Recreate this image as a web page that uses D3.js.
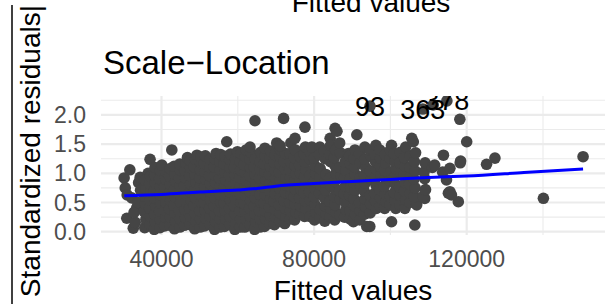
<!DOCTYPE html>
<html lang="en">
<head>
  <meta charset="utf-8">
  <title>Scale-Location</title>
  <script src="https://d3js.org/d3.v7.min.js"></script>
  <style>
    body { margin: 0; background: #fff; }
    svg { display: block; font-family: "Liberation Sans", Arial, sans-serif; }
  </style>
</head>
<body>

<svg width="605" height="304"></svg>

<script>
  // fitted value, sqrt(|standardized residual|)
  const points = [
    [30200,0.92],[30500,0.75],[31000,0.63],[30900,0.23],[31700,1.06],[32200,0.58],[32600,0.06],[33100,0.16],
    [33500,0.41],[32800,0.33],[34000,0.84],[34500,0.71],[33800,0.50],[34400,0.93],[36500,1.00],[37000,1.24],
    [35600,0.07],[35900,0.21],[35500,0.34],[35800,0.48],[35600,0.61],[35900,0.74],[35700,0.88],
    [37000,0.12],[37100,0.26],[36900,0.40],[37000,0.54],[37200,0.68],[36900,0.82],[37100,0.95],
    [38100,0.04],[38400,0.17],[38200,0.30],[38500,0.44],[38300,0.57],[38100,0.70],[38400,0.84],[38200,0.97],[38300,1.10],
    [39600,0.07],[39700,0.21],[39500,0.35],[39800,0.49],[39600,0.63],[39700,0.77],[39500,0.91],[39700,1.05],
    [40800,0.10],[41100,0.24],[40900,0.37],[41200,0.50],[41000,0.64],[40800,0.77],[41100,0.90],[40900,1.04],[40100,1.14],
    [42200,0.11],[42300,0.25],[42100,0.39],[42400,0.53],[42200,0.67],[42300,0.81],[42100,0.95],[42300,1.08],
    [42700,1.40],
    [43400,0.05],[43700,0.18],[43500,0.32],[43300,0.45],[43600,0.59],[43400,0.72],[43700,0.86],[43500,0.99],[43300,1.12],
    [44800,0.08],[44900,0.22],[44700,0.36],[45000,0.50],[44800,0.64],[44900,0.78],[44700,0.92],[44900,1.06],[44800,1.16],
    [46000,0.11],[46300,0.24],[46100,0.38],[46400,0.51],[46200,0.65],[46000,0.78],[46300,0.92],[46100,1.05],[46400,1.18],[46800,1.27],
    [47500,0.12],[47600,0.26],[47400,0.40],[47700,0.54],[47500,0.68],[47600,0.82],[47400,0.96],[47600,1.10],[47500,1.22],
    [48700,0.05],[49000,0.18],[48800,0.31],[48600,0.45],[48900,0.58],[48700,0.71],[49000,0.85],[48800,0.98],[48600,1.11],[48900,1.24],[49300,1.31],
    [50100,0.08],[50200,0.22],[50000,0.36],[50300,0.50],[50100,0.64],[50200,0.78],[50000,0.92],[50200,1.06],[50100,1.20],[50300,1.28],
    [51300,0.10],[51600,0.23],[51400,0.37],[51200,0.50],[51500,0.63],[51300,0.77],[51600,0.90],[51400,1.03],[51200,1.17],[51500,1.30],
    [52700,0.12],[52800,0.26],[52600,0.40],[52900,0.54],[52700,0.68],[52800,0.82],[52600,0.96],[52800,1.10],[52700,1.24],
    [53900,0.04],[54200,0.17],[54000,0.31],[53800,0.44],[54100,0.57],[53900,0.71],[54200,0.84],[54000,0.97],[53800,1.11],[54100,1.24],[54300,1.34],
    [55300,0.08],[55400,0.22],[55200,0.36],[55500,0.50],[55300,0.64],[55400,0.78],[55200,0.92],[55400,1.06],[55300,1.20],[55500,1.32],
    [56500,0.09],[56800,0.22],[56600,0.36],[56400,0.49],[56700,0.62],[56500,0.76],[56800,0.89],[56600,1.02],[56400,1.16],[56700,1.29],[57100,1.54],
    [57900,0.12],[58000,0.26],[57800,0.40],[58100,0.54],[57900,0.68],[58000,0.82],[57800,0.96],[58000,1.10],[57900,1.24],[58100,1.33],
    [59200,0.04],[59500,0.17],[59300,0.30],[59100,0.44],[59400,0.57],[59200,0.70],[59500,0.84],[59300,0.97],[59100,1.10],[59400,1.24],[59900,1.37],
    [60600,0.08],[60700,0.22],[60500,0.36],[60800,0.50],[60600,0.64],[60700,0.78],[60500,0.92],[60700,1.06],[60600,1.20],[60800,1.34],
    [61800,0.08],[62100,0.21],[61900,0.35],[61700,0.48],[62000,0.62],[61800,0.75],[62100,0.88],[61900,1.02],[61700,1.15],[62000,1.29],[62200,1.40],
    [63200,0.12],[63300,0.26],[63100,0.40],[63400,0.54],[63200,0.68],[63300,0.82],[63100,0.96],[63300,1.10],[63200,1.24],[63400,1.36],
    [64400,0.04],[64700,0.17],[64500,0.31],[64300,0.44],[64600,0.58],[64400,0.71],[64700,0.84],[64500,0.98],[64300,1.11],[64600,1.25],[63200,1.45],[64500,1.90],
    [65800,0.08],[65900,0.22],[65700,0.36],[66000,0.50],[65800,0.64],[65900,0.78],[65700,0.92],[65900,1.06],[65800,1.20],[66000,1.36],
    [67000,0.09],[67300,0.22],[67100,0.36],[66900,0.49],[67200,0.63],[67000,0.76],[67300,0.89],[67100,1.03],[66900,1.16],[67200,1.30],[67100,1.43],
    [68400,0.14],[68500,0.28],[68300,0.42],[68600,0.56],[68400,0.70],[68500,0.84],[68300,0.98],[68500,1.12],[68400,1.26],[68600,1.38],
    [69600,0.12],[69900,0.25],[69700,0.38],[69500,0.52],[69800,0.65],[69600,0.79],[69900,0.92],[69700,1.05],[69500,1.19],[69800,1.32],[70500,1.48],[70200,1.52],
    [71000,0.18],[71100,0.32],[70900,0.46],[71200,0.60],[71000,0.74],[71100,0.88],[70900,1.02],[71100,1.16],[71000,1.30],[71200,1.40],
    [72300,0.14],[72600,0.27],[72400,0.40],[72200,0.53],[72500,0.67],[72300,0.80],[72600,0.93],[72400,1.07],[72200,1.20],[72500,1.34],[71100,1.47],[72000,1.94],
    [73700,0.22],[73800,0.36],[73600,0.50],[73900,0.64],[73700,0.78],[73800,0.92],[73600,1.06],[73800,1.20],[73700,1.34],[73900,1.52],
    [74900,0.20],[75200,0.33],[75000,0.47],[74800,0.60],[75100,0.73],[74900,0.87],[75200,1.00],[75000,1.13],[74800,1.27],[75100,1.40],[75000,1.60],
    [76300,0.30],[76400,0.44],[76200,0.58],[76500,0.72],[76300,0.86],[76400,1.00],[76200,1.14],[76400,1.28],
    [77500,0.26],[77800,0.39],[77600,0.53],[77400,0.66],[77700,0.79],[77500,0.93],[77800,1.06],[77600,1.19],[77400,1.33],[77700,1.45],[77600,1.79],
    [78900,0.26],[79000,0.54],[78800,0.68],[79100,0.82],[78900,0.96],[79000,1.24],[78800,1.38],
    [80100,0.20],[80400,0.33],[80200,0.47],[80000,0.60],[80300,0.73],[80100,0.86],[80400,1.00],[80200,1.13],[80000,1.26],[79400,1.45],[81500,1.45],
    [81500,0.24],[81600,0.38],[81400,0.66],[81700,0.80],[81500,0.94],[81600,1.08],[81400,1.32],
    [82800,0.18],[83100,0.31],[82900,0.44],[82700,0.58],[83000,0.71],[82800,0.85],[83100,0.98],[82900,1.25],[82700,1.38],[84200,1.60],
    [84200,0.26],[84300,0.40],[84100,0.52],[84400,0.78],[84200,0.92],[84300,1.20],[84100,1.33],[84300,1.48],
    [85400,0.20],[85700,0.33],[85500,0.46],[85300,0.60],[85600,0.73],[85400,0.86],[85700,1.00],[85500,1.13],[85300,1.27],[85600,1.40],[85500,1.77],[86000,1.72],
    [86800,0.28],[86900,0.56],[86700,0.70],[87000,0.96],[86800,1.10],[86900,1.35],[86700,1.52],
    [88000,0.25],[88300,0.38],[88100,0.52],[87900,0.65],[88200,0.78],[88000,0.92],[88300,1.05],[88100,1.19],[89000,1.34],
    [89400,0.22],[89500,0.36],[89300,0.62],[89600,0.76],[89400,0.90],[89500,1.16],[89300,1.30],
    [90300,0.17],[90800,0.30],[90600,0.44],[90400,0.57],[90700,0.71],[90500,0.84],[90800,0.98],[90600,1.11],[90400,1.25],[90700,1.40],[91200,1.66],
    [92000,0.20],[92100,0.36],[91900,0.50],[92200,0.78],[92000,0.92],[92100,1.18],[91900,1.34],
    [93800,0.09],[94600,0.09],[93200,0.30],[93500,0.43],[93300,0.56],[93100,0.70],[93400,0.83],[93200,0.97],[93500,1.10],[93300,1.24],[93300,1.45],
    [94700,0.32],[94800,0.48],[94600,0.62],[94900,0.90],[94700,1.04],[94800,1.30],[94600,1.40],
    [96300,0.40],[96100,0.53],[95900,0.66],[96200,0.80],[96000,0.93],[96300,1.07],[96100,1.20],[95900,1.33],[96200,1.48],
    [97300,0.44],[97400,0.58],[97200,0.72],[97500,0.98],[97300,1.12],[97400,1.26],[97200,1.40],
    [98500,0.40],[98800,0.52],[98600,0.65],[98400,0.78],[98700,0.92],[98500,1.05],[98800,1.18],[98600,1.32],[100300,1.48],[100300,0.17],
    [99900,0.46],[100000,0.60],[99800,0.88],[100100,1.02],[99900,1.26],[100000,1.40],
    [101400,0.40],[101200,0.54],[101000,0.67],[101300,0.81],[101100,0.94],[101400,1.08],[101200,1.21],[101000,1.34],
    [102500,0.46],[102600,0.62],[102400,0.76],[102700,1.02],[102500,1.18],[102600,1.36],
    [103800,0.40],[104000,0.55],[103700,0.70],[103900,0.84],[103600,0.98],[103900,1.12],[103700,1.27],[104000,1.45],
    [105100,0.50],[105200,0.66],[105000,0.82],[105300,0.96],[105100,1.10],[105200,1.30],
    [106400,0.115],[106900,0.46],[106300,0.60],[106500,0.75],[106200,0.90],[106500,1.04],[106300,1.20],[106600,1.35],[106000,1.54],[105600,1.60],
    [109000,0.57],[108500,0.60],[109200,0.72],[109000,0.91],[108800,1.02],[109100,1.18],
    [111000,1.10],[113700,1.02],[114700,0.885],[113900,1.31],[111600,1.14],[115600,1.085],[115200,0.66],[115600,0.685],
    [117800,0.514],[116000,0.63],[111200,2.17],[118200,1.925],[120000,1.54],[118400,1.21],[118300,1.18],
    [125200,1.154],[127400,1.26],[140100,0.572],[150500,1.284]
  ];

  // labelled observations
  const labelled = [
    { id: "93",  fitted: 94650,  value: 2.15 },
    { id: "363", fitted: 108500, value: 2.10 },
    { id: "378", fitted: 114800, value: 2.24 }
  ];

  // smoother
  const smoothX = [30250, 40000, 50000, 60000, 65000, 70000, 80000, 90000, 100000, 110000, 120000, 135000, 150500];
  const smoothY = [0.616, 0.637, 0.68, 0.714, 0.74, 0.78, 0.825, 0.86, 0.894, 0.928, 0.954, 1.013, 1.074];

  const xMajor = [40000, 80000, 120000];
  const xMinor = [60000, 100000, 140000];
  const yMajor = [0, 0.5, 1, 1.5, 2];
  const yMinor = [0.25, 0.75, 1.25, 1.75, 2.25];

  const svg = d3.select("svg");
  const panel = { left: 101, right: 605, top: 96, bottom: 235 };

  const x = d3.scaleLinear().domain([24140, 156250]).range([panel.left, panel.right]);
  const y = d3.scaleLinear().domain([-0.0565, 2.3236]).range([panel.bottom, panel.top]);

  svg.append("defs").append("clipPath").attr("id", "clip")
    .append("rect")
    .attr("x", panel.left).attr("y", panel.top)
    .attr("width", panel.right - panel.left).attr("height", panel.bottom - panel.top);

  // grid
  const grid = svg.append("g");
  grid.selectAll(".gx-minor").data(xMinor).join("line")
    .attr("x1", d => x(d)).attr("x2", d => x(d))
    .attr("y1", panel.top).attr("y2", panel.bottom)
    .attr("stroke", "#ebebeb").attr("stroke-width", 1.1);
  grid.selectAll(".gy-minor").data(yMinor).join("line")
    .attr("x1", panel.left).attr("x2", panel.right)
    .attr("y1", d => y(d)).attr("y2", d => y(d))
    .attr("stroke", "#ebebeb").attr("stroke-width", 1.1);
  grid.selectAll(".gx-major").data(xMajor).join("line")
    .attr("x1", d => x(d)).attr("x2", d => x(d))
    .attr("y1", panel.top).attr("y2", panel.bottom)
    .attr("stroke", "#ebebeb").attr("stroke-width", 2.2);
  grid.selectAll(".gy-major").data(yMajor).join("line")
    .attr("x1", panel.left).attr("x2", panel.right)
    .attr("y1", d => y(d)).attr("y2", d => y(d))
    .attr("stroke", "#ebebeb").attr("stroke-width", 2.2);

  const plot = svg.append("g").attr("clip-path", "url(#clip)");

  // points
  plot.selectAll("circle.pt").data(points).join("circle")
    .attr("class", "pt")
    .attr("cx", d => x(d[0])).attr("cy", d => y(d[1]))
    .attr("r", 5.8).attr("fill", "#454545");
  plot.selectAll("circle.lab").data(labelled).join("circle")
    .attr("class", "lab")
    .attr("cx", d => x(d.fitted)).attr("cy", d => y(d.value))
    .attr("r", 5.8).attr("fill", "#454545");

  // smoother line
  const line = d3.line()
    .x(d => x(d[0]))
    .y(d => y(d[1]))
    .curve(d3.curveMonotoneX);
  plot.append("path")
    .datum(smoothX.map((v, i) => [v, smoothY[i]]))
    .attr("d", line)
    .attr("fill", "none")
    .attr("stroke", "#0000ff")
    .attr("stroke-width", 3);

  // point labels
  plot.selectAll("text.lab").data(labelled).join("text")
    .attr("class", "lab")
    .attr("x", d => x(d.fitted)).attr("y", d => y(d.value))
    .attr("dy", "0.35em")
    .attr("text-anchor", "middle")
    .attr("font-size", 27)
    .attr("fill", "#000")
    .text(d => d.id);

  // tick labels
  svg.selectAll("text.xt").data(xMajor).join("text")
    .attr("class", "xt")
    .attr("x", d => x(d)).attr("y", 266.5)
    .attr("text-anchor", "middle")
    .attr("font-size", 23)
    .attr("fill", "#4d4d4d")
    .text(d => d);
  svg.selectAll("text.yt").data(yMajor).join("text")
    .attr("class", "yt")
    .attr("x", 86).attr("y", d => y(d))
    .attr("dy", "0.35em")
    .attr("text-anchor", "end")
    .attr("font-size", 23)
    .attr("fill", "#4d4d4d")
    .text(d => d3.format(".1f")(d));

  // titles
  svg.append("text")
    .attr("x", 103).attr("y", 74)
    .attr("font-size", 33)
    .attr("fill", "#000")
    .text("Scale\u2212Location");

  svg.append("text")
    .attr("x", (panel.left + panel.right) / 2).attr("y", 300)
    .attr("text-anchor", "middle")
    .attr("font-size", 28)
    .attr("fill", "#000")
    .text("Fitted values");

  // x title of the plot above, cut by the top edge
  svg.append("text")
    .attr("x", 371).attr("y", 12)
    .attr("text-anchor", "middle")
    .attr("font-size", 28)
    .attr("fill", "#000")
    .text("Fitted values");

  // y title: sqrt(|Standardized residuals|), cut off
  svg.append("line")
    .attr("x1", 12).attr("x2", 12)
    .attr("y1", 5).attr("y2", 304)
    .attr("stroke", "#000").attr("stroke-width", 1.5);
  svg.append("text")
    .attr("transform", "translate(40,5) rotate(-90)")
    .attr("text-anchor", "end")
    .attr("font-size", 28)
    .attr("fill", "#000")
    .text("Standardized residuals|");
</script>
</body>
</html>
